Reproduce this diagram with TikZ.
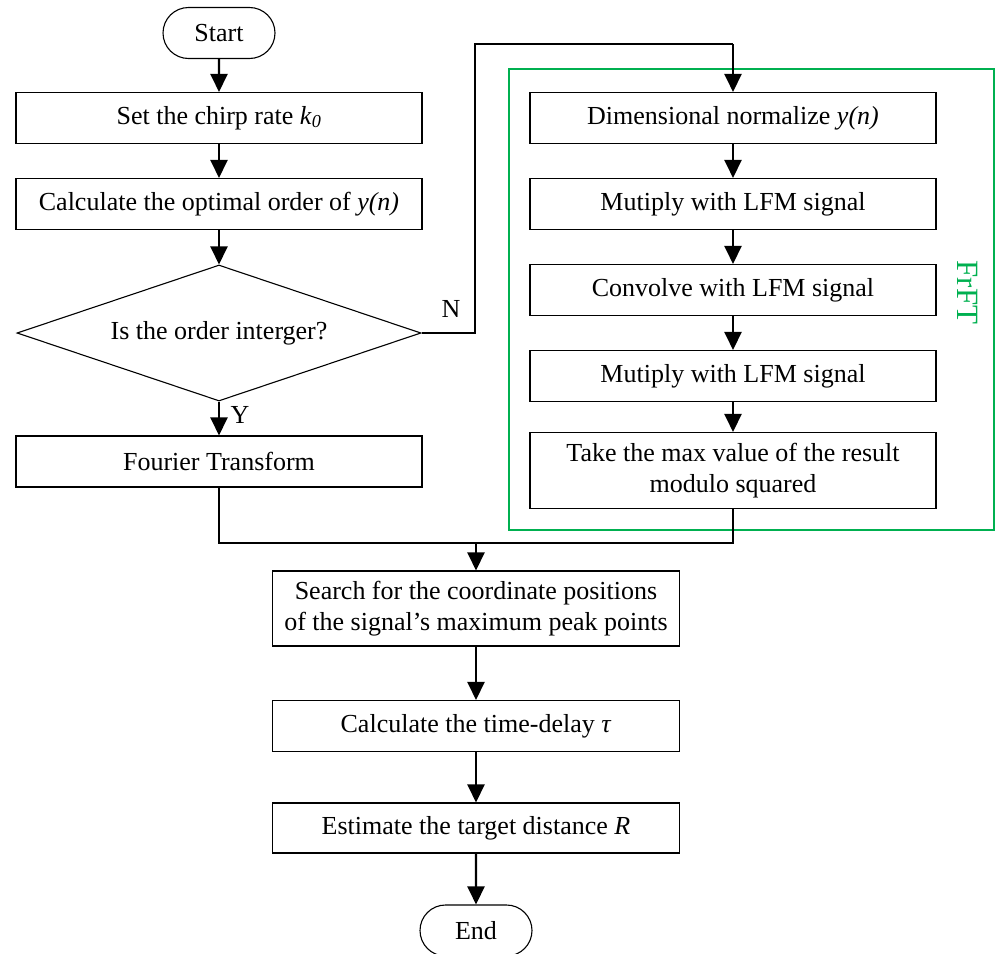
\documentclass[tikz,border=0pt]{standalone}
\usepackage{fontspec}
\setmainfont{Liberation Serif}
\usetikzlibrary{shapes.geometric,shapes.misc,arrows.meta}
\definecolor{frgreen}{RGB}{0,176,80}
\newcommand\myfs{\fontsize{26pt}{31pt}\selectfont}
\begin{document}
\begin{tikzpicture}[x=1pt,y=-1pt,
  box/.style={draw, line width=1.1pt, minimum width=406pt, minimum height=51pt, inner sep=0pt, font=\myfs, align=center},
  term/.style={draw, rounded rectangle, line width=1.1pt, minimum width=112pt, minimum height=51pt, inner sep=0pt, font=\myfs},
  dec/.style={draw, diamond, aspect=2.97, line width=1.1pt, minimum width=404pt, minimum height=136pt, inner sep=0pt, font=\myfs},
  conn/.style={line width=2.4pt, -{Triangle[length=18pt,width=17pt]}},
  plain/.style={line width=2.4pt},
  lbl/.style={font=\myfs, inner sep=0pt}]
\useasboundingbox (0,0) rectangle (995,953);

\node[term] (start) at (219,33) {Start};
\node[box] (b1) at (219,118) {Set the chirp rate \textit{k}\textsubscript{\textit{0}}};
\node[box] (b2) at (219,204) {Calculate the optimal order of \textit{y(n)}};
\node[dec] (d) at (219,333) {Is the order interger?};
\node[box] (ft) at (219,461.5) {Fourier Transform};

\draw[frgreen, line width=2pt] (509,69) rectangle (994,530);
\node[lbl, text=frgreen, rotate=-90, font=\fontsize{31pt}{36pt}\selectfont] (frft) at (968,292.5) {FrFT};

\node[box] (r1) at (733,118) {Dimensional normalize \textit{y(n)}};
\node[box] (r2) at (733,204) {Mutiply with LFM signal};
\node[box] (r3) at (733,290) {Convolve with LFM signal};
\node[box] (r4) at (733,376) {Mutiply with LFM signal};
\node[box, minimum height=76pt] (r5) at (733,470.5) {Take the max value of the result\\modulo squared};

\node[box, minimum width=407pt, minimum height=75pt] (s) at (476,608.5) {Search for the coordinate positions\\of the signal’s maximum peak points};
\node[box, minimum width=407pt] (t) at (476,726) {Calculate the time-delay \textit{τ}};
\node[box, minimum width=407pt, minimum height=50pt] (e) at (476,828) {Estimate the target distance \textit{R}};
\node[term] (end) at (476,930.5) {End};

\coordinate (nc1) at (475,333);
\coordinate (nc2) at (475,44);
\coordinate (nc3) at (733,44);
\coordinate (j) at (476,543);
\coordinate (jl) at (219,543);
\coordinate (jr) at (733,543);

\draw[conn] (start) -- (b1);
\draw[conn] (b1) -- (b2);
\draw[conn] (b2) -- (d);
\draw[conn] (d) -- (ft);
\node[lbl] (y) at (240,415) {Y};
\draw[plain] (d.east) -- (nc1) -- (nc2) -- (nc3);
\draw[conn] (nc3) -- (r1);
\node[lbl] (n) at (451,309) {N};
\draw[conn] (r1) -- (r2);
\draw[conn] (r2) -- (r3);
\draw[conn] (r3) -- (r4);
\draw[conn] (r4) -- (r5);
\draw[plain] (ft.south) -- (jl) -- (jr) -- (r5.south);
\draw[conn] (j) -- (s);
\draw[conn] (s) -- (t);
\draw[conn] (t) -- (e);
\draw[conn] (e) -- (end);
\end{tikzpicture}
\end{document}
